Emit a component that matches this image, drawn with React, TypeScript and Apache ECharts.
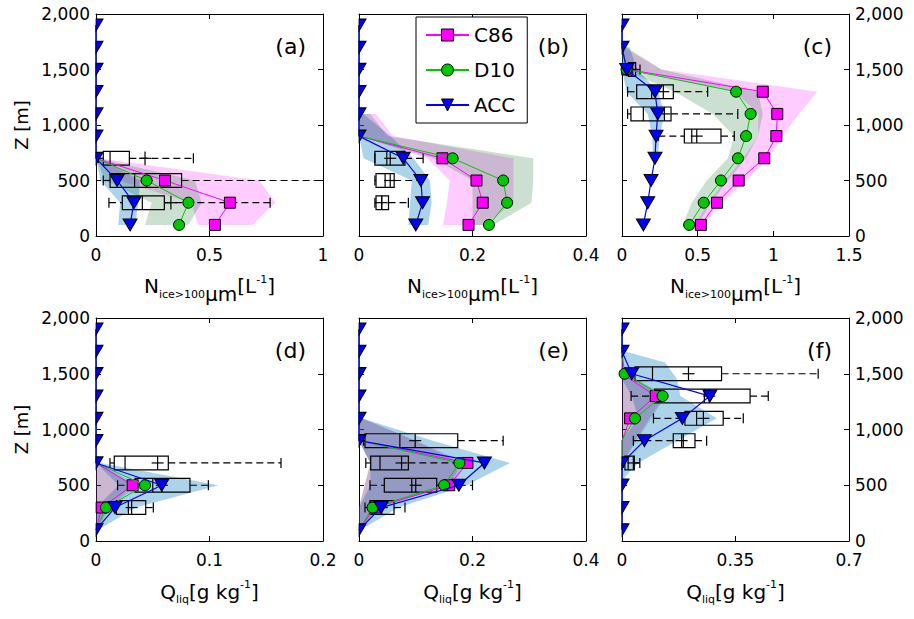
import React, { useEffect, useRef } from 'react';
import * as echarts from 'echarts';

const FONT = 'DejaVu Sans';

// ---------- data ----------
const HEIGHTS = [100, 300, 500, 700, 900, 1100, 1300, 1500, 1700, 1900];
const Y_TICKS = [0, 500, 1000, 1500, 2000];

const X_TICKS_A = [0, 0.5, 1];
const X_TICKS_B = [0, 0.2, 0.4];
const X_TICKS_C = [0, 0.5, 1, 1.5];
const X_TICKS_D = [0, 0.1, 0.2];
const X_TICKS_E = [0, 0.2, 0.4];
const X_TICKS_F = [0, 0.35, 0.7];

const PANEL_LABELS = ['(a)', '(b)', '(c)', '(d)', '(e)', '(f)'];
const MODELS = ['C86', 'D10', 'ACC'];

// profiles (values at HEIGHTS)
const C86_A = [0.524, 0.59, 0.304, 0, 0, 0, 0, 0, 0, 0];
const D10_A = [0.366, 0.407, 0.223, 0, 0, 0, 0, 0, 0, 0];
const ACC_A = [0.15, 0.167, 0.093, 0, 0, 0, 0, 0, 0, 0];

const C86_B = [0.193, 0.218, 0.207, 0.147, 0, 0, 0, 0, 0, 0];
const D10_B = [0.229, 0.261, 0.254, 0.165, 0, 0, 0, 0, 0, 0];
const ACC_B = [0.1, 0.112, 0.109, 0.078, 0, 0, 0, 0, 0, 0];

const C86_C = [0.521, 0.628, 0.771, 0.94, 1.02, 1.026, 0.93, 0.035, 0, 0];
const D10_C = [0.444, 0.54, 0.654, 0.766, 0.82, 0.85, 0.754, 0.03, 0, 0];
const ACC_C = [0.141, 0.17, 0.192, 0.218, 0.225, 0.236, 0.218, 0.031, 0, 0];

const C86_D = [0, 0.005, 0.0323, 0, 0, 0, 0, 0, 0, 0];
const D10_D = [0, 0.0088, 0.0432, 0, 0, 0, 0, 0, 0, 0];
const ACC_D = [0, 0.0167, 0.0579, 0, 0, 0, 0, 0, 0, 0];

const C86_E = [0, 0.028, 0.159, 0.191, 0, 0, 0, 0, 0, 0];
const D10_E = [0, 0.024, 0.15, 0.177, 0, 0, 0, 0, 0, 0];
const ACC_E = [0, 0.039, 0.176, 0.221, 0, 0, 0, 0, 0, 0];

const C86_F = [0, 0, 0, 0, 0, 0.025, 0.104, 0, 0, 0];
const D10_F = [0, 0, 0, 0, 0, 0.04, 0.125, 0.008, 0, 0];
const ACC_F = [0, 0, 0, 0, 0.069, 0.186, 0.271, 0.03, 0, 0];

// box plots: [height, min, q1, median, q3, max, mean]
const BOX_A = [
  [700, 0.01, 0.032, 0.062, 0.147, 0.429, 0.216],
  [500, 0.032, 0.062, 0.17, 0.377, 1.2, 0.223],
  [300, 0.057, 0.116, 0.204, 0.301, 0.767, 0.33],
];
const BOX_B = [
  [700, 0.028, 0.028, 0.049, 0.081, 0.113, 0.055],
  [500, 0.028, 0.03, 0.046, 0.062, 0.11, 0.055],
  [300, 0.028, 0.03, 0.04, 0.052, 0.087, 0.04],
];
const BOX_C = [
  [1500, 0.009, 0.042, 0.064, 0.09, 0.119, 0.064],
  [1300, 0.037, 0.097, 0.196, 0.339, 0.566, 0.273],
  [1100, 0.037, 0.059, 0.141, 0.324, 0.765, 0.28],
  [900, 0.24, 0.412, 0.461, 0.654, 0.742, 0.494],
];
const BOX_D = [
  [700, 0.0123, 0.0161, 0.0256, 0.0637, 0.163, 0.0543],
  [500, 0.019, 0.0344, 0.05, 0.0828, 0.099, 0.058],
  [300, 0.0035, 0.018, 0.0285, 0.0438, 0.0505, 0.0314],
];
const BOX_E = [
  [900, 0.008, 0.0106, 0.072, 0.174, 0.254, 0.099],
  [700, 0.012, 0.0206, 0.037, 0.087, 0.175, 0.075],
  [500, 0.0194, 0.0446, 0.093, 0.137, 0.2, 0.1],
  [300, 0.0106, 0.0194, 0.028, 0.0617, 0.081, 0.04],
];
const BOX_F = [
  [1500, 0.01, 0.04, 0.094, 0.307, 0.605, 0.205],
  [1300, 0.028, 0.1, 0.254, 0.395, 0.451, 0.269],
  [1100, 0.097, 0.194, 0.23, 0.312, 0.374, 0.251],
  [900, 0.035, 0.158, 0.189, 0.225, 0.261, 0.184],
  [700, 0.005, 0.009, 0.019, 0.038, 0.055, 0.035],
];

// shaded ranges: [height, low, high]
const FILL_A_ACC = [[100, 0.098, 0.172], [300, 0.106, 0.187], [500, 0.02, 0.194], [700, 0, 0.01]];
const FILL_A_C86 = [[100, 0.45, 0.69], [300, 0.42, 0.79], [500, 0.1, 0.72], [700, 0, 0.01]];
const FILL_A_D10 = [[100, 0.216, 0.407], [300, 0.245, 0.465], [500, 0.04, 0.436], [700, 0, 0.01]];

const FILL_B_ACC = [[100, 0.087, 0.122], [300, 0.09, 0.128], [500, 0.093, 0.125], [700, 0.008, 0.096], [900, 0, 0.055], [1100, 0, 0.008]];
const FILL_B_C86 = [[100, 0.148, 0.22], [300, 0.155, 0.272], [500, 0.16, 0.272], [700, 0.12, 0.272], [900, 0, 0.06], [1100, 0, 0.03]];
const FILL_B_D10 = [[100, 0.2, 0.237], [300, 0.2, 0.304], [500, 0.2, 0.307], [700, 0.13, 0.307], [900, 0, 0.05], [1100, 0, 0.02]];

const FILL_C_ACC = [[700, 0.205, 0.235], [900, 0.2, 0.25], [1100, 0.17, 0.28], [1300, 0.03, 0.24], [1500, 0, 0.1], [1700, 0, 0.05]];
const FILL_C_C86 = [[100, 0.48, 0.54], [300, 0.57, 0.66], [500, 0.68, 0.82], [700, 0.8, 0.97], [900, 0.9, 1.06], [1100, 0.9, 1.17], [1300, 0.75, 1.29], [1500, 0.03, 0.26], [1700, 0, 0.01]];
const FILL_C_D10 = [[100, 0.4, 0.5], [300, 0.46, 0.59], [500, 0.56, 0.7], [700, 0.7, 0.82], [900, 0.74, 0.9], [1100, 0.6, 0.93], [1300, 0.35, 0.9], [1500, 0, 0.26], [1700, 0, 0.03]];

const FILL_D_ACC = [[100, 0, 0.002], [300, 0, 0.035], [500, 0.02, 0.108], [700, 0, 0.004]];
const FILL_D_C86 = [[100, 0, 0.002], [300, 0, 0.01], [500, 0, 0.033], [700, 0, 0.002]];
const FILL_D_D10 = [[100, 0, 0.002], [300, 0, 0.012], [500, 0, 0.036], [700, 0, 0.002]];

const FILL_E_ACC = [[100, 0, 0.003], [300, 0, 0.07], [500, 0.02, 0.19], [700, 0.02, 0.266], [900, 0, 0.13], [1100, 0, 0.005]];
const FILL_E_C86 = [[100, 0, 0.002], [300, 0, 0.035], [500, 0.01, 0.165], [700, 0.02, 0.19], [900, 0, 0.1], [1100, 0, 0.005]];
const FILL_E_D10 = [[100, 0, 0.002], [300, 0, 0.035], [500, 0.01, 0.16], [700, 0.02, 0.18], [900, 0, 0.1], [1100, 0, 0.005]];

const FILL_F_ACC = [[550, 0, 0.002], [700, 0, 0.05], [900, 0, 0.17], [1100, 0.05, 0.292], [1300, 0.03, 0.18], [1450, 0, 0.17], [1600, 0, 0.133], [1700, 0, 0.01]];
const FILL_F_C86 = [[700, 0, 0.003], [900, 0, 0.04], [1100, 0, 0.085], [1300, 0, 0.13], [1500, 0, 0.01]];
const FILL_F_D10 = [[700, 0, 0.003], [900, 0, 0.045], [1100, 0, 0.09], [1300, 0, 0.135], [1500, 0, 0.015]];

// ---------- layout / style ----------
const GRID_LEFTS = [96, 359, 622];
const GRID_TOPS = [14, 318];
const GRID_HEIGHTS = [222, 223];
const GRID_W = 227;

const STYLE: Record<string, any> = {
  C86: { color: '#ff00ff', symbol: 'rect', size: 11, rotate: 0, fill: 'rgba(255,0,255,0.2)', z: 3 },
  D10: { color: '#00c800', symbol: 'circle', size: 11, rotate: 0, fill: 'rgba(0,100,30,0.2)', z: 4 },
  ACC: { color: '#0000ff', symbol: 'triangle', size: [14, 12], rotate: 180, fill: 'rgba(0,120,190,0.33)', z: 5 },
};
const HALF_TRI = 'path://M0,0L10,0L0,10Z';

const PANELS = [
  { ticks: X_TICKS_A, prof: { C86: C86_A, D10: D10_A, ACC: ACC_A }, fills: { ACC: FILL_A_ACC, C86: FILL_A_C86, D10: FILL_A_D10 }, boxes: BOX_A },
  { ticks: X_TICKS_B, prof: { C86: C86_B, D10: D10_B, ACC: ACC_B }, fills: { ACC: FILL_B_ACC, C86: FILL_B_C86, D10: FILL_B_D10 }, boxes: BOX_B },
  { ticks: X_TICKS_C, prof: { C86: C86_C, D10: D10_C, ACC: ACC_C }, fills: { ACC: FILL_C_ACC, C86: FILL_C_C86, D10: FILL_C_D10 }, boxes: BOX_C },
  { ticks: X_TICKS_D, prof: { C86: C86_D, D10: D10_D, ACC: ACC_D }, fills: { ACC: FILL_D_ACC, C86: FILL_D_C86, D10: FILL_D_D10 }, boxes: BOX_D },
  { ticks: X_TICKS_E, prof: { C86: C86_E, D10: D10_E, ACC: ACC_E }, fills: { ACC: FILL_E_ACC, C86: FILL_E_C86, D10: FILL_E_D10 }, boxes: BOX_E },
  { ticks: X_TICKS_F, prof: { C86: C86_F, D10: D10_F, ACC: ACC_F }, fills: { ACC: FILL_F_ACC, C86: FILL_F_C86, D10: FILL_F_D10 }, boxes: BOX_F },
];

const TITLE_TOP = '{n|N}{s|ice>100}{m|\u00B5m}{n|[L}{p|-1}{n|]}';
const TITLE_BOT = '{n|Q}{s|liq}{n|[g kg}{p|-1}{n|]}';
const RICH = {
  n: { fontSize: 20, fontFamily: FONT, color: '#000' },
  s: { fontSize: 11, fontFamily: FONT, color: '#000', padding: [16, 0, 0, 0] },
  m: { fontSize: 20, fontFamily: FONT, color: '#000', padding: [16, 0, 0, 0] },
  p: { fontSize: 11, fontFamily: FONT, color: '#000', padding: [0, 0, 14, 0] },
};

const fmtThousands = (v: number) => String(v).replace(/\B(?=(\d{3})+(?!\d))/g, ',');
const BOX_HALF = 62;

function buildOption() {
  const grid: any[] = [];
  const xAxis: any[] = [];
  const yAxis: any[] = [];
  const series: any[] = [];
  const graphic: any[] = [];
  const mirrorX: any[] = [];
  const mirrorY: any[] = [];

  PANELS.forEach((pn, p) => {
    const row = Math.floor(p / 3);
    const col = p % 3;
    const left = GRID_LEFTS[col];
    const top = GRID_TOPS[row];
    const h = GRID_HEIGHTS[row];
    grid.push({ left, top, width: GRID_W, height: h, show: false });
    const xmin = pn.ticks[0];
    const xmax = pn.ticks[pn.ticks.length - 1];
    const xint = pn.ticks[1] - pn.ticks[0];
    const common = {
      axisLine: { show: true, onZero: false, lineStyle: { color: '#000', width: 1 } },
      axisTick: { show: true, inside: true, length: 5, lineStyle: { color: '#000', width: 1 } },
      splitLine: { show: false },
    };
    xAxis.push({
      type: 'value', gridIndex: p, min: xmin, max: xmax, interval: xint, position: 'bottom',
      ...common,
      axisLabel: { show: true, color: '#000', fontSize: 17, fontFamily: FONT, margin: 10 },
      name: row === 0 ? TITLE_TOP : TITLE_BOT,
      nameLocation: 'middle',
      nameGap: row === 0 ? 32 : 37,
      nameTextStyle: { rich: RICH, color: '#000' },
    });
    mirrorX.push({
      type: 'value', gridIndex: p, min: xmin, max: xmax, interval: xint, position: 'top',
      ...common, axisLabel: { show: false },
    });
    const rightSide = col === 2;
    const showLab = col !== 1;
    yAxis.push({
      type: 'value', gridIndex: p, min: Y_TICKS[0], max: Y_TICKS[Y_TICKS.length - 1],
      interval: Y_TICKS[1] - Y_TICKS[0], position: rightSide ? 'right' : 'left',
      ...common,
      axisLabel: {
        show: showLab, color: '#000', fontSize: 17, fontFamily: FONT, margin: 6,
        formatter: (v: number) => fmtThousands(v),
      },
      name: col === 0 ? 'Z [m]' : '',
      nameLocation: 'middle',
      nameGap: 66,
      nameTextStyle: { fontSize: 18, fontFamily: FONT, color: '#000' },
    });
    mirrorY.push({
      type: 'value', gridIndex: p, min: Y_TICKS[0], max: Y_TICKS[Y_TICKS.length - 1],
      interval: Y_TICKS[1] - Y_TICKS[0], position: rightSide ? 'left' : 'right',
      ...common, axisLabel: { show: false },
    });

    // shaded ranges
    ['ACC', 'C86', 'D10'].forEach((m) => {
      const rows = (pn.fills as any)[m];
      series.push({
        type: 'custom', name: m + ' range', xAxisIndex: p, yAxisIndex: p, z: 1, clip: true, silent: true,
        data: rows,
        encode: { x: [1, 2], y: 0 },
        renderItem: (params: any, api: any) => {
          if (params.dataIndex !== 0) return null;
          const right = rows.map((r: number[]) => api.coord([r[2], r[0]]));
          const leftPts = rows.slice().reverse().map((r: number[]) => api.coord([r[1], r[0]]));
          return {
            type: 'polygon',
            shape: { points: right.concat(leftPts) },
            style: { fill: STYLE[m].fill, stroke: null },
          };
        },
      });
    });

    // box plots
    series.push({
      type: 'custom', name: 'obs', xAxisIndex: p, yAxisIndex: p, z: 2, clip: true, silent: true,
      data: pn.boxes,
      encode: { x: [1, 2, 3, 4, 5, 6], y: 0 },
      renderItem: (params: any, api: any) => {
        const hh = api.value(0);
        const X = (i: number) => api.coord([api.value(i), hh])[0];
        const xmn = X(1), q1 = X(2), md = X(3), q3 = X(4), xmx = X(5), mean = X(6);
        const yc = api.coord([0, hh])[1];
        const yt = api.coord([0, hh + BOX_HALF])[1];
        const yb = api.coord([0, hh - BOX_HALF])[1];
        const cap = 5;
        const st = { stroke: '#000', lineWidth: 1.2, fill: null };
        const ds = { stroke: '#000', lineWidth: 1.2, fill: null, lineDash: [7, 4] };
        return {
          type: 'group',
          children: [
            { type: 'line', shape: { x1: xmn, y1: yc, x2: q1, y2: yc }, style: ds },
            { type: 'line', shape: { x1: q3, y1: yc, x2: xmx, y2: yc }, style: ds },
            { type: 'line', shape: { x1: xmn, y1: yc - cap, x2: xmn, y2: yc + cap }, style: st },
            { type: 'line', shape: { x1: xmx, y1: yc - cap, x2: xmx, y2: yc + cap }, style: st },
            { type: 'rect', shape: { x: q1, y: yt, width: q3 - q1, height: yb - yt }, style: st },
            { type: 'line', shape: { x1: md, y1: yt, x2: md, y2: yb }, style: st },
            { type: 'line', shape: { x1: mean, y1: yt, x2: mean, y2: yb }, style: st },
            { type: 'line', shape: { x1: mean - 6, y1: yc, x2: mean + 6, y2: yc }, style: st },
          ],
        };
      },
    });

    // profiles
    MODELS.forEach((m) => {
      const s = STYLE[m];
      const vals = (pn.prof as any)[m] as number[];
      const data = HEIGHTS.map((hv, i) => {
        const v = vals[i];
        if (v === 0) {
          if (m === 'ACC') {
            return { value: [0, hv], symbol: HALF_TRI, symbolSize: [7, 12], symbolOffset: [3.5, 0], symbolRotate: 0 };
          }
          return { value: [0, hv], symbol: 'none' };
        }
        return { value: [v, hv] };
      });
      series.push({
        type: 'line', name: m, xAxisIndex: p, yAxisIndex: p, z: s.z, clip: true,
        data,
        symbol: s.symbol, symbolSize: s.size, symbolRotate: s.rotate, symbolKeepAspect: false,
        showSymbol: true, showAllSymbol: true,
        lineStyle: { color: s.color, width: m === 'ACC' ? 1.2 : 1 },
        itemStyle: { color: s.color, borderColor: '#000', borderWidth: 1 },
        emphasis: { disabled: true },
      });
    });

    graphic.push({
      type: 'text',
      x: left + GRID_W - 17,
      y: top + 32,
      style: { text: PANEL_LABELS[p], fontSize: 22, fontFamily: FONT, fill: '#000', align: 'right', verticalAlign: 'middle' },
      z: 20,
    });
  });

  return {
    animation: false,
    backgroundColor: '#fff',
    grid,
    xAxis: xAxis.concat(mirrorX),
    yAxis: yAxis.concat(mirrorY),
    series,
    graphic,
    legend: {
      data: MODELS,
      orient: 'vertical',
      left: 416,
      top: 17,
      padding: [6, 12, 6, 9],
      itemWidth: 43,
      itemHeight: 15,
      itemGap: 11,
      selectedMode: false,
      backgroundColor: '#fff',
      borderColor: '#000',
      borderWidth: 1,
      borderRadius: 0,
      textStyle: { fontSize: 20, fontFamily: FONT, color: '#000', lineHeight: 24 },
      itemStyle: { borderColor: '#000', borderWidth: 1 },
      z: 30,
    },
  };
}

export default function App() {
  const ref = useRef<HTMLDivElement>(null);
  useEffect(() => {
    if (!ref.current) return;
    const chart = echarts.init(ref.current, null, { renderer: 'svg' });
    chart.setOption(buildOption() as any);
    return () => chart.dispose();
  }, []);
  return (
    <div
      ref={ref}
      style={{ position: 'fixed', left: 0, top: 0, width: 914, height: 619, background: '#fff' }}
    />
  );
}
